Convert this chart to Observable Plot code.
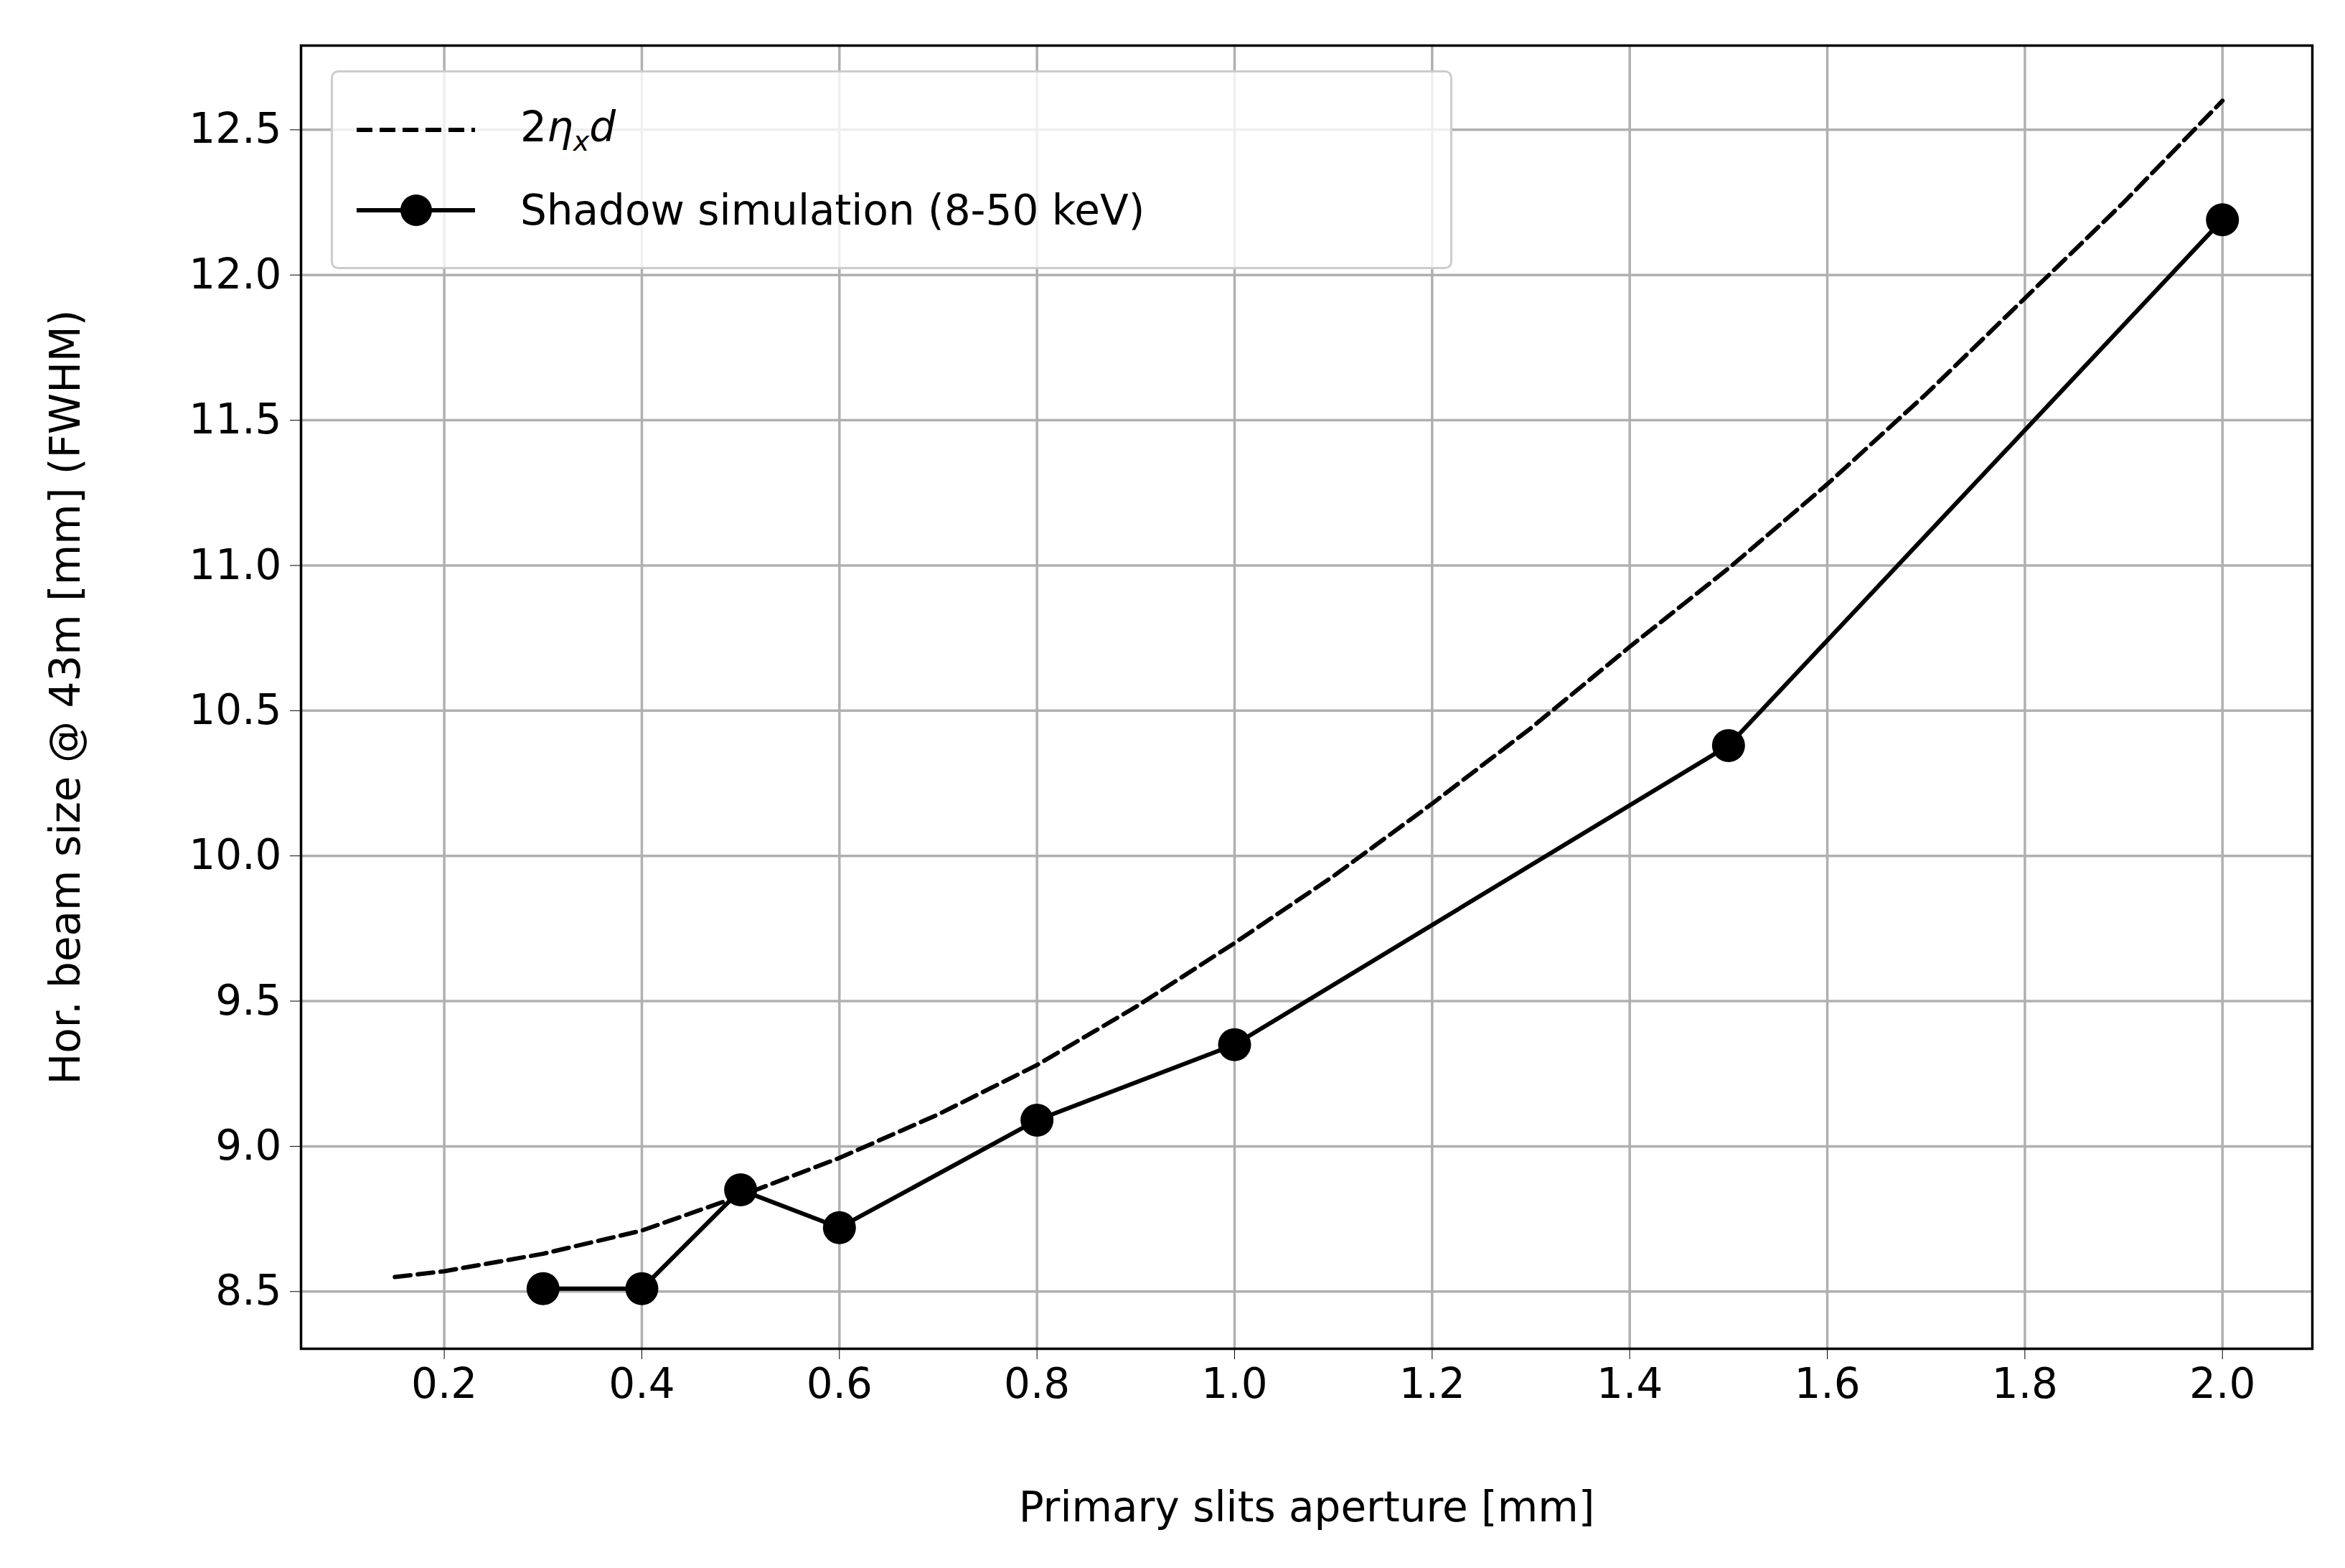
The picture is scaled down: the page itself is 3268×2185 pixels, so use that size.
<!DOCTYPE html>
<html><head><meta charset="utf-8">
<script src="https://cdn.jsdelivr.net/npm/d3@7"></script>
<script src="https://cdn.jsdelivr.net/npm/@observablehq/plot@0.6"></script>
<style>
body{margin:0;background:#fff;font-family:"DejaVu Sans",sans-serif}
#wrap{position:relative;width:3268px;height:2185px}
#legend{position:absolute;left:461px;top:98px;width:1563px;height:277px;border:3px solid #ccc;border-radius:10px;background:rgba(255,255,255,0.8);box-sizing:border-box;font-size:58px}
#legend .row{position:absolute;left:28px;display:flex;align-items:center}
#legend svg{margin-right:58px}
</style></head><body>
<div id="wrap"><div id="chart"></div>
<div id="legend">
 <div class="row" style="top:42px"><svg width="175" height="40"><line x1="5" y1="20" x2="170" y2="20" stroke="#000" stroke-width="6" stroke-dasharray="22,10"/></svg><span>2<i>η<sub style="font-size:38px">x</sub>d</i></span></div>
 <div class="row" style="top:158px"><svg width="175" height="56"><line x1="5" y1="28" x2="170" y2="28" stroke="#000" stroke-width="6"/><circle cx="88" cy="28" r="22" fill="#000"/></svg><span>Shadow simulation (8-50 keV)</span></div>
</div></div>
<script>
// simulated points
const simX = [0.3, 0.4, 0.5, 0.6, 0.8, 1.0, 1.5, 2.0];
const simY = [8.51, 8.51, 8.85, 8.72, 9.09, 9.35, 10.38, 12.19];
// 2*eta_x*d curve
const curveX = [0.15, 0.2, 0.3, 0.4, 0.5, 0.6, 0.7, 0.8, 0.9, 1.0, 1.1, 1.2, 1.3, 1.4, 1.5, 1.6, 1.7, 1.8, 1.9, 2.0];
const curveY = [8.55, 8.57, 8.63, 8.71, 8.83, 8.96, 9.11, 9.28, 9.48, 9.70, 9.93, 10.18, 10.44, 10.72, 10.99, 11.28, 11.59, 11.92, 12.25, 12.60];
const xTicks = [0.2, 0.4, 0.6, 0.8, 1.0, 1.2, 1.4, 1.6, 1.8, 2.0];
const yTicks = [8.5, 9.0, 9.5, 10.0, 10.5, 11.0, 11.5, 12.0, 12.5];

const sim = simX.map((x, i) => ({x, y: simY[i]}));
const curve = curveX.map((x, i) => ({x, y: curveY[i]}));

const chart = Plot.plot({
  width: 3268, height: 2185,
  marginLeft: 419, marginRight: 46, marginTop: 63, marginBottom: 306,
  style: {fontSize: "58px", fontFamily: "DejaVu Sans", color: "#000"},
  x: {domain: [0.055, 2.091], ticks: xTicks, tickFormat: d3.format(".1f"), tickSize: 15, tickPadding: 12,
      label: "Primary slits aperture [mm]", labelAnchor: "center", labelArrow: "none", labelOffset: 240},
  y: {domain: [8.303, 12.79], ticks: yTicks, tickFormat: d3.format(".1f"), tickSize: 15, tickPadding: 12,
      label: "Hor. beam size @ 43m [mm] (FWHM)", labelAnchor: "center", labelArrow: "none", labelOffset: 350},
  marks: [
    Plot.gridX(xTicks, {stroke: "#b0b0b0", strokeOpacity: 1, strokeWidth: 3.5}),
    Plot.gridY(yTicks, {stroke: "#b0b0b0", strokeOpacity: 1, strokeWidth: 3.5}),
    Plot.frame({stroke: "#000", strokeWidth: 3.5}),
    Plot.line(curve, {x: "x", y: "y", stroke: "#000", strokeWidth: 6, strokeDasharray: "22,10"}),
    Plot.line(sim, {x: "x", y: "y", stroke: "#000", strokeWidth: 6}),
    Plot.dot(sim, {x: "x", y: "y", r: 23, fill: "#000"})
  ]
});
document.querySelector("#chart").appendChild(chart);
</script></body></html>
